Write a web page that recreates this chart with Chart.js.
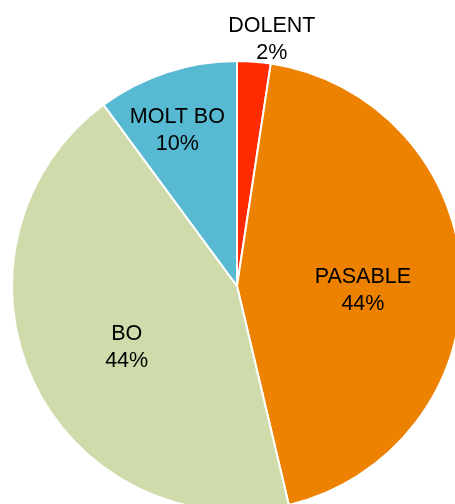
<!DOCTYPE html>
<html>
<head>
<meta charset="utf-8">
<script src="https://cdn.jsdelivr.net/npm/chart.js@4/dist/chart.umd.min.js"></script>
<style>
  html, body { margin: 0; padding: 0; background: #fff; overflow: hidden; width: 455px; height: 504px; }
  #wrap { position: absolute; left: 0; top: 0; }
</style>
</head>
<body>
<div id="wrap"><canvas id="c" width="474" height="540"></canvas></div>
<script>
const categories = ["DOLENT", "PASABLE", "BO", "MOLT BO"];
const values = [2.4, 43.9, 43.6, 10.1];
const colors = ["#FF2A00", "#EC8200", "#CFDBAB", "#58BAD2"];

// label placement style (radius factor of outer radius, pixel shift)
const labelRadius = [1.11, 0.56, 0.56, 0.75];
const labelShift = [[16, 3], [0, 10], [4, 9], [-7, 5]];

const total = values.reduce((a, b) => a + b, 0);

const labelPlugin = {
  id: 'sliceLabels',
  afterDraw(chart) {
    const ctx = chart.ctx;
    const meta = chart.getDatasetMeta(0);
    ctx.save();
    ctx.font = '21.5px "Liberation Sans", Arial, sans-serif';
    ctx.fillStyle = '#000';
    ctx.textAlign = 'center';
    ctx.textBaseline = 'middle';
    meta.data.forEach((arc, i) => {
      const p = arc.getProps(['startAngle', 'endAngle', 'x', 'y', 'outerRadius'], true);
      const mid = (p.startAngle + p.endAngle) / 2;
      const r = p.outerRadius * labelRadius[i];
      const x = p.x + Math.cos(mid) * r + labelShift[i][0];
      const y = p.y + Math.sin(mid) * r + labelShift[i][1];
      const pct = Math.round(values[i] / total * 100) + '%';
      ctx.fillText(categories[i], x, y - 13.5);
      ctx.fillText(pct, x, y + 13.5);
    });
    ctx.restore();
  }
};

new Chart(document.getElementById('c'), {
  type: 'pie',
  data: {
    labels: categories,
    datasets: [{
      data: values,
      backgroundColor: colors,
      borderColor: '#ffffff',
      borderWidth: 2
    }]
  },
  options: {
    responsive: false,
    animation: false,
    layout: { padding: { left: 11, right: 11, top: 60, bottom: 28 } },
    plugins: {
      legend: { display: false },
      tooltip: { enabled: false }
    }
  },
  plugins: [labelPlugin]
});
</script>
</body>
</html>
